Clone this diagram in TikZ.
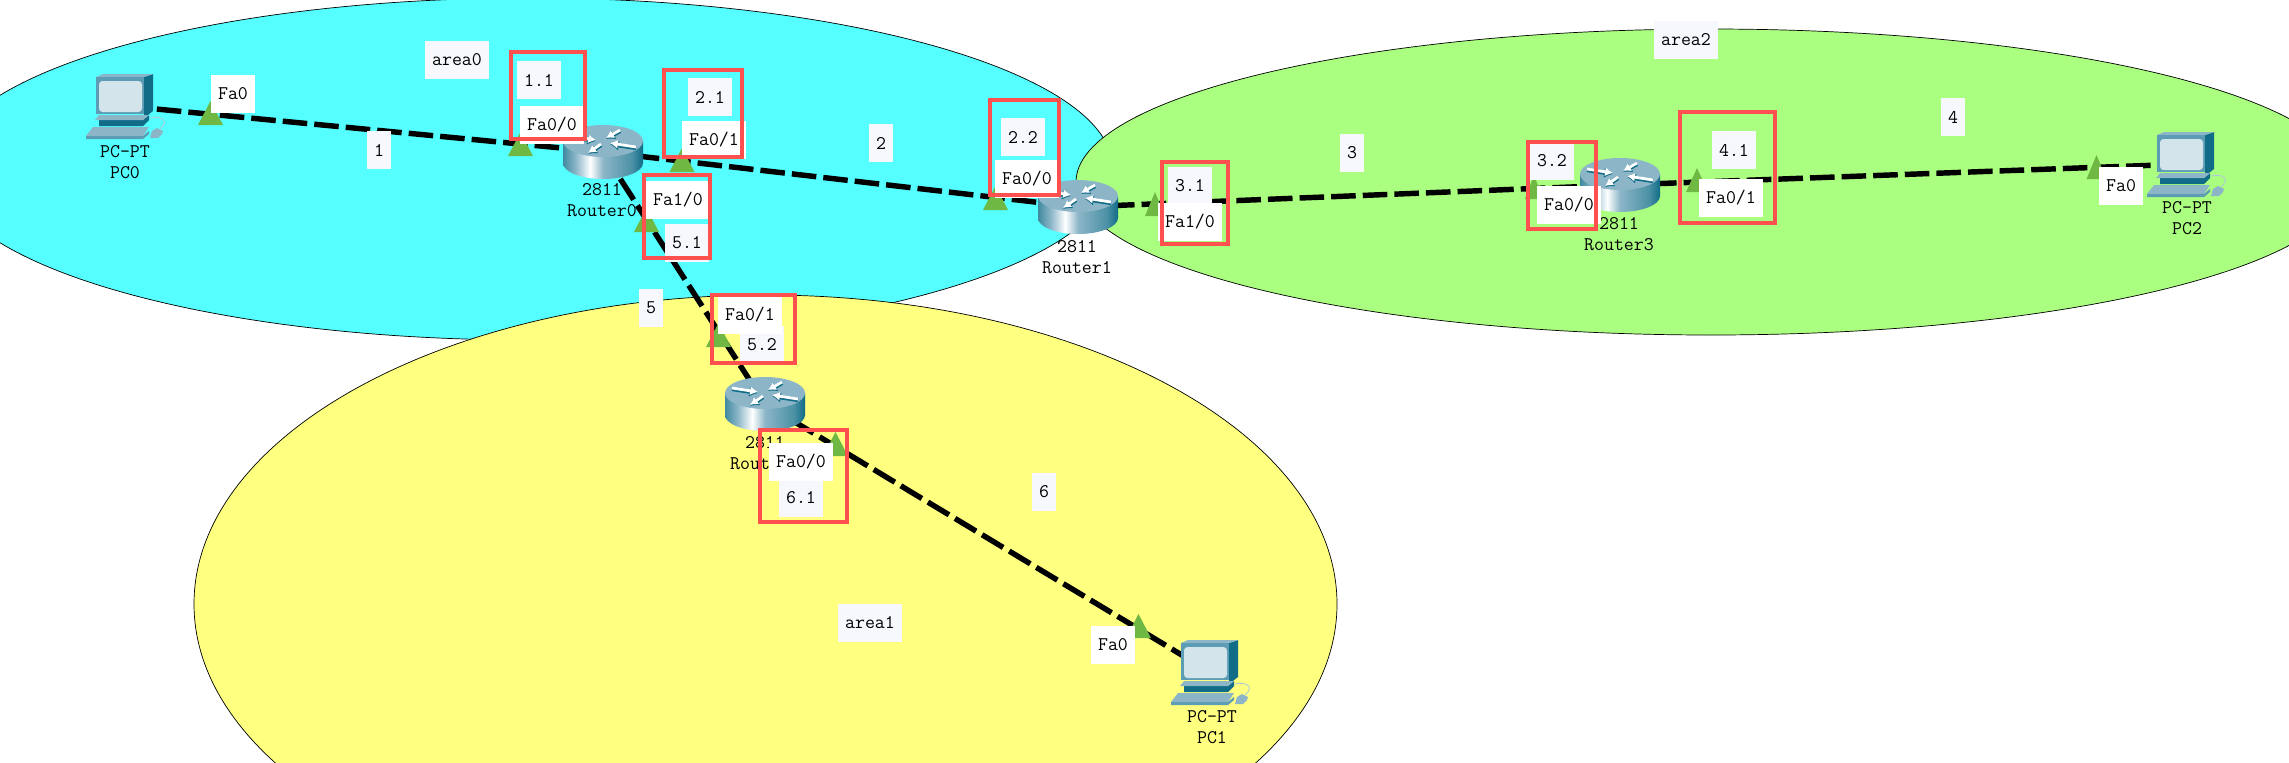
\documentclass[tikz,border=0pt]{standalone}
\usepackage{fontspec}
\usetikzlibrary{arrows.meta}
\definecolor{AreaCyan}{RGB}{85,255,255}
\definecolor{AreaGreen}{RGB}{171,255,128}
\definecolor{AreaYellow}{RGB}{255,255,128}
\definecolor{LampGreen}{RGB}{112,184,68}
\definecolor{MarkRed}{RGB}{255,80,80}
\definecolor{TagWhite}{RGB}{246,248,253}
\definecolor{IconLight}{RGB}{140,182,200}
\definecolor{IconMid}{RGB}{92,156,181}
\definecolor{IconDark}{RGB}{16,108,135}
\definecolor{IconScreen}{RGB}{211,228,235}
\pgfdeclarehorizontalshading{routerbody}{100bp}{color(0bp)=(IconDark); color(25bp)=(IconDark!80!white); color(33bp)=(IconLight); color(42bp)=(white); color(50bp)=(IconLight); color(68bp)=(IconDark!75!white); color(75bp)=(IconDark); color(100bp)=(IconDark)}
\tikzset{
  routericon/.pic={
    \path[shading=routerbody] (-40,-11) -- (-40,11) arc[start angle=180, end angle=0, x radius=40, y radius=16] -- (40,-11) -- cycle;
    \fill[IconLight] (0,-11) ellipse[x radius=40, y radius=16];
    \foreach \ax/\ay/\bx/\by in {-33/-16/-7/-12, 17/-22/3/-14, -2/-8/-15/1, 33/-5/7/-9} {
      \draw[IconDark, line width=2.4pt, -{Latex[length=5pt,width=6pt]}] (\ax,\ay+1) -- (\bx,\by+1);
      \draw[white, line width=1.6pt, -{Latex[length=4.5pt,width=5pt]}] (\ax,\ay) -- (\bx,\by);
    }
  },
  pcicon/.pic={
    \draw[IconLight!70!white, line width=0.5pt] (25,12) .. controls (38,9) and (44,16) .. (35,23);
    \fill[IconDark] (19,-29) -- (28,-32) -- (28,5) -- (19,12) -- cycle;
    \fill[IconLight] (-29,-29) -- (-22,-32) -- (28,-32) -- (19,-29) -- cycle;
    \fill[IconMid] (-29,-29) rectangle (19,8);
    \fill[IconScreen, rounded corners=2pt] (-26,-25) rectangle (17,6);
    \fill[IconDark] (-26,14) -- (18,14) -- (24,9) -- (24,14) -- (18,20) -- (-26,20) -- cycle;
    \fill[IconLight] (-30,14) -- (-26,9) -- (24,9) -- (18,14) -- cycle;
    \fill[IconLight] (-39,30) -- (-32,21) -- (24,21) -- (18,30) -- cycle;
    \fill[IconMid] (-39,30) -- (18,30) -- (24,25) -- (24,28) -- (18,33) -- (-39,33) -- cycle;
    \fill[IconLight] (25,32) -- (27,25) -- (32,22) -- (38,25) -- (37,28) -- (33,32) -- cycle;
  }
}
\begin{document}
\begin{tikzpicture}[
    x=0.02cm, y=-0.02cm,
    area/.style={draw=black, line width=0.4pt},
    device/.style={inner sep=0pt, minimum size=0pt},
    link/.style={black, line width=3.1pt, dash pattern=on 14pt off 4pt},
    lamp/.style={fill=LampGreen},
    devlabel/.style={align=center, inner sep=0pt, font=\ttfamily\fontsize{11}{12}\selectfont},
    portbox/.style={fill=white, inner ysep=0pt, inner xsep=0.14cm, minimum height=0.76cm, font=\ttfamily\fontsize{11}{12}\selectfont},
    tagbox/.style={portbox, fill=TagWhite},
    markbox/.style={draw=MarkRed, line width=2pt}
  ]
    \path[use as bounding box, clip] (0,0) rectangle (2289,762);

    \fill[area, fill=AreaCyan] (528,169) ellipse[x radius=585, y radius=171];
    \fill[area, fill=AreaGreen] (1711,182) ellipse[x radius=635, y radius=153];
    \fill[area, fill=AreaYellow] (765.5,604) ellipse[x radius=571.5, y radius=309];

    \node[device] (PC0) at (125,106) {};
    \node[device] (PC1) at (1210,672) {};
    \node[device] (PC2) at (2186,164) {};
    \node[device] (Router0) at (603,152) {};
    \node[device] (Router1) at (1078,207) {};
    \node[device] (Router2) at (765,404) {};
    \node[device] (Router3) at (1620,185) {};

    \draw[link] (PC0) -- (Router0);
    \draw[link] (Router0) -- (Router1);
    \draw[link] (Router1) -- (Router3);
    \draw[link] (Router3) -- (PC2);
    \draw[link] (Router0) -- (Router2);
    \draw[link] (Router2) -- (PC1);

    \foreach \lx/\ly/\lw in {210.5/125/12.5, 520.5/156/12.5, 682/172/12.5, 646.5/232/12.5, 995.5/210/12.5, 718.5/347/12.5, 835.5/456/12.5, 1138.5/638/12.5, 1155/216/10, 1534/199/9, 1697/192/11, 2096.5/179/10}
      \fill[lamp] (\lx-\lw,\ly) -- (\lx+\lw,\ly) -- (\lx,\ly-24) -- cycle;

    \pic at (PC0) {pcicon};
    \pic at (PC1) {pcicon};
    \pic at (PC2) {pcicon};
    \pic at (Router0) {routericon};
    \pic at (Router1) {routericon};
    \pic at (Router2) {routericon};
    \pic at (Router3) {routericon};

    \node[devlabel] (pc0name) at (125,162) {PC-PT\\PC0};
    \node[devlabel] (pc1name) at (1212,727) {PC-PT\\PC1};
    \node[devlabel] (pc2name) at (2187,218) {PC-PT\\PC2};
    \node[devlabel] (r0name) at (602,200) {2811\\Router0};
    \node[devlabel] (r1name) at (1077,257) {2811\\Router1};
    \node[devlabel] (r2name) at (765,453) {2811\\Router2};
    \node[devlabel] (r3name) at (1619,234) {2811\\Router3};

    \node[tagbox] (area0) at (457,60) {area0};
    \node[tagbox] (area1) at (870,623) {area1};
    \node[tagbox] (area2) at (1686,40) {area2};
    \node[tagbox] (net1) at (379,150) {1};
    \node[tagbox] (net2) at (881,143) {2};
    \node[tagbox] (net3) at (1352,153) {3};
    \node[tagbox] (net4) at (1953,117) {4};
    \node[tagbox] (net5) at (651,308) {5};
    \node[tagbox] (net6) at (1044,492) {6};

    \node[tagbox] (ip11) at (539,80) {1.1};
    \node[tagbox] (ip21) at (710,97) {2.1};
    \node[tagbox] (ip22) at (1023,137) {2.2};
    \node[tagbox] (ip31) at (1190,186) {3.1};
    \node[tagbox] (ip32) at (1552,161) {3.2};
    \node[tagbox] (ip41) at (1734,150) {4.1};
    \node[tagbox] (ip51) at (687,243) {5.1};
    \node[tagbox] (ip52) at (762,345) {5.2};
    \node[tagbox] (ip61) at (801,498) {6.1};

    \node[portbox] (pc0fa) at (233,94) {Fa0};
    \node[portbox] (pc1fa) at (1113,645) {Fa0};
    \node[portbox] (pc2fa) at (2121,186) {Fa0};
    \node[portbox] (r0fa00) at (552,125) {Fa0/0};
    \node[portbox] (r0fa01) at (714,140) {Fa0/1};
    \node[portbox] (r0fa10) at (678,200) {Fa1/0};
    \node[portbox] (r1fa00) at (1027,179) {Fa0/0};
    \node[portbox] (r1fa10) at (1190,222) {Fa1/0};
    \node[portbox] (r2fa01) at (750,315) {Fa0/1};
    \node[portbox] (r2fa00) at (801,462) {Fa0/0};
    \node[portbox] (r3fa00) at (1569,205) {Fa0/0};
    \node[portbox] (r3fa01) at (1731,198) {Fa0/1};

    \foreach \ax/\ay/\bx/\by in {511/52/585/139, 664/70/742/157, 644/175/710/258, 712/295/795/363, 760/430/847/522, 990/100/1059/195, 1162/162/1228/244, 1528/142/1596/229, 1680/112/1775/223}
      \draw[markbox] (\ax,\ay) rectangle (\bx,\by);
  \end{tikzpicture}
\end{document}
